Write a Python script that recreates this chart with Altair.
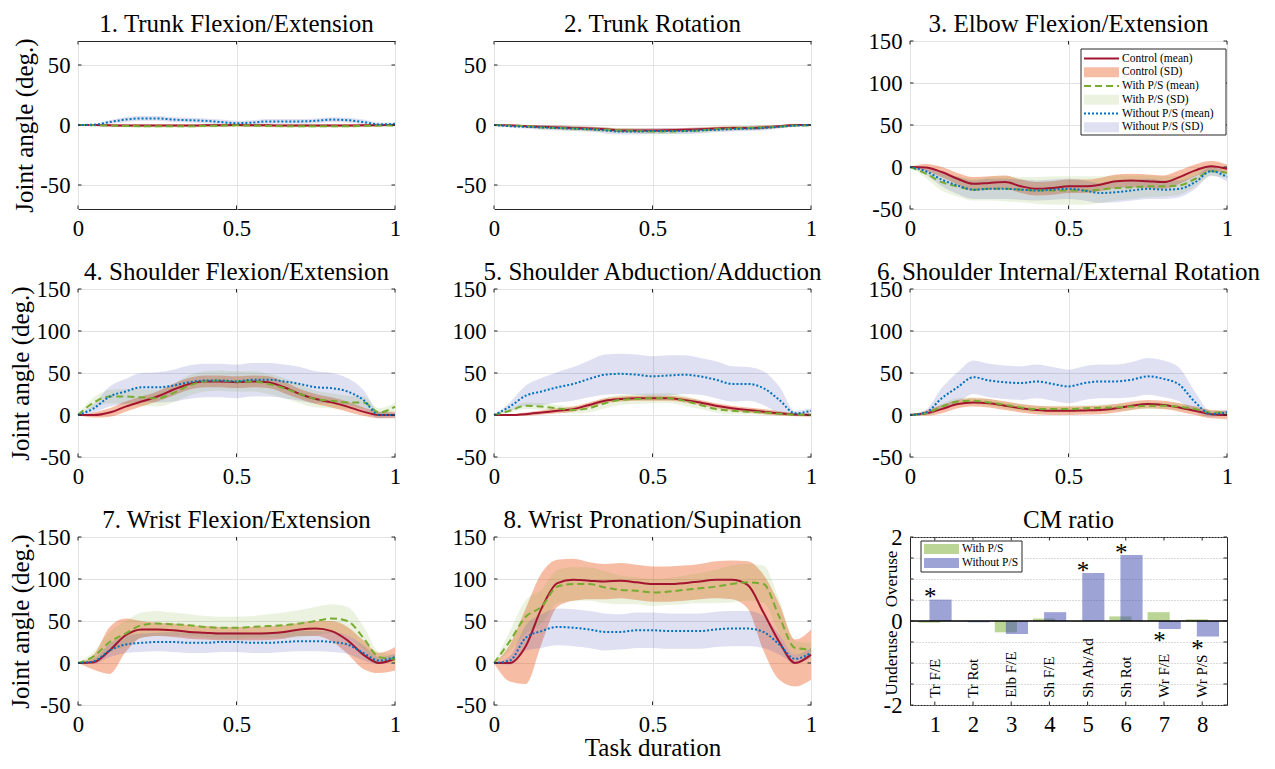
import altair as alt
import pandas as pd

FONT = "Liberation Serif"

# ---------------- data ----------------
X_PTS = [0.0, 0.05, 0.1, 0.15, 0.2, 0.25, 0.3, 0.35, 0.4, 0.45, 0.5,
         0.55, 0.6, 0.65, 0.7, 0.75, 0.8, 0.85, 0.9, 0.95, 1.0]

PANEL_TITLES = [
    "1. Trunk Flexion/Extension", "2. Trunk Rotation", "3. Elbow Flexion/Extension",
    "4. Shoulder Flexion/Extension", "5. Shoulder Abduction/Adduction",
    "6. Shoulder Internal/External Rotation", "7. Wrist Flexion/Extension",
    "8. Wrist Pronation/Supination",
]
GROUPS = ["Control", "With P/S", "Without P/S"]
LEGEND_LABELS = ["Control (mean)", "Control (SD)", "With P/S (mean)", "With P/S (SD)",
                 "Without P/S (mean)", "Without P/S (SD)"]

T1_CTRL = [0, 0, -0.3, -0.5, -0.5, -0.5, -0.5, -0.5, -0.3, -0.2, 0, -0.2, -0.3, -0.5, -0.5, -0.5, -0.5, -0.5, -0.3, -0.2, 0]
T1_CTRL_SD = [0, 0.5, 1, 1, 1, 1, 1, 1, 1, 1, 1, 1, 1, 1, 1, 1, 1, 1, 1, 0.8, 0.5]
T1_WITH = [0, -0.2, -0.5, -0.8, -1, -1, -1, -1, -0.8, -0.5, -0.3, -0.5, -0.8, -1, -1, -1, -1, -1, -0.8, -0.5, -0.5]
T1_WITH_SD = [0, 0.5, 1, 1.2, 1.2, 1.2, 1.2, 1.2, 1.2, 1.2, 1.2, 1.2, 1.2, 1.2, 1.2, 1.2, 1.2, 1.2, 1, 0.8, 0.5]
T1_WO = [0, 0.3, 2.5, 4.5, 5.5, 5.5, 4.5, 4, 3.5, 2.5, 1.5, 2, 3, 3, 3, 3.5, 4.5, 4, 2.5, 0.5, 1]
T1_WO_SD = [0, 0.5, 1.5, 2, 2, 2, 2, 2, 2, 2, 2, 2, 2, 2, 2, 2, 2, 2, 2, 1.5, 1]

T2_CTRL = [0, -0.3, -1, -1.5, -2, -2.5, -3, -3.5, -4.5, -4.5, -4.5, -4.3, -4, -3.5, -3, -2.5, -2.5, -2, -1, 0, 0]
T2_CTRL_SD = [0, 0.5, 1, 1, 1.5, 1.5, 1.5, 1.5, 1.5, 1.5, 1.5, 1.5, 1.5, 1.5, 1.5, 1.5, 1.5, 1.5, 1, 1, 0.5]
T2_WITH = [0, -0.5, -1, -2, -2.5, -3, -3.5, -4, -4.5, -5, -5.5, -5.5, -5, -4.5, -3.5, -3, -2.5, -2, -1.5, -0.5, -0.5]
T2_WITH_SD = [0, 0.5, 1, 1.5, 1.5, 2, 2, 2, 2, 2, 2, 2, 2, 2, 2, 2, 1.5, 1.5, 1, 1, 0.5]
T2_WO = [0, -1, -1.5, -2, -2.5, -3, -3.5, -4.5, -5.5, -5.5, -5, -5, -5, -4.5, -4, -3.5, -3, -2.5, -1.5, -0.5, 0]
T2_WO_SD = [0, 1, 1.5, 2, 2, 2, 2, 2.5, 2.5, 2.5, 2.5, 2.5, 2.5, 2.5, 2, 2, 2, 2, 1.5, 1, 0.5]

T3_CTRL = [0, -0.5, -6, -14, -20, -19, -18, -23, -26, -25, -23, -23, -21, -17, -16, -17, -18, -12, -4, 1, -2]
T3_CTRL_SD = [0, 4, 6, 7, 8, 8, 8, 8, 8, 8, 8, 8, 8, 8, 8, 8, 8, 8, 7, 6, 5]
T3_WITH = [0, -8, -18, -23, -27, -26, -26, -27, -28, -28, -28, -28, -27, -25, -24, -23, -23, -22, -14, -5, -7]
T3_WITH_SD = [0, 5, 10, 12, 13, 14, 15, 15, 16, 17, 17, 17, 16, 15, 14, 13, 12, 11, 9, 6, 5]
T3_WO = [0, -5, -15, -22, -27, -26, -26, -27, -28, -27, -26, -28, -31, -30, -28, -26, -27, -26, -18, -5, -12]
T3_WO_SD = [0, 4, 8, 10, 11, 12, 12, 12, 12, 12, 12, 12, 12, 12, 12, 12, 11, 10, 8, 5, 5]

T4_CTRL = [0, 0, 3, 10, 16, 22, 30, 37, 40, 40, 39, 40, 39, 33, 25, 19, 15, 10, 4, 0, 0]
T4_CTRL_SD = [0, 3, 5, 6, 6, 6, 7, 7, 7, 7, 7, 7, 7, 7, 6, 6, 6, 6, 5, 4, 4]
T4_WITH = [0, 15, 22, 22, 21, 20, 26, 35, 40, 41, 40, 40, 37, 32, 25, 19, 17, 15, 15, 3, 10]
T4_WITH_SD = [0, 6, 8, 9, 10, 10, 11, 12, 12, 12, 12, 12, 12, 12, 11, 10, 9, 8, 7, 5, 5]
T4_WO = [0, 8, 22, 28, 33, 33, 35, 39, 41, 41, 40, 42, 42, 40, 37, 33, 32, 28, 18, 0, 0]
T4_WO_SD = [0, 5, 12, 15, 17, 18, 19, 20, 20, 20, 20, 20, 20, 20, 20, 19, 18, 16, 12, 4, 3]

T5_CTRL = [0, 0, 1, 3, 5, 7, 12, 17, 19, 20, 20, 20, 18, 15, 11, 8, 6, 4, 2, 0.5, 0]
T5_CTRL_SD = [0, 1, 2, 2.5, 3, 3, 3, 3, 3, 3, 3, 3, 3, 3, 3, 3, 3, 3, 2.5, 2, 2]
T5_WITH = [0, 5, 11, 10, 8, 6, 8, 14, 18, 19, 20, 20, 17, 12, 7, 5, 4, 3, 1.5, 0.5, 0]
T5_WITH_SD = [0, 2, 4, 4, 4, 4, 5, 6, 6, 6, 6, 6, 6, 5, 4, 4, 3, 3, 2, 1, 1]
T5_WO = [0, 10, 23, 28, 33, 37, 43, 48, 49, 48, 46, 47, 48, 46, 42, 37, 37, 32, 18, 2, 5]
T5_WO_SD = [0, 5, 12, 16, 18, 20, 22, 24, 24, 24, 24, 24, 23, 22, 22, 21, 20, 20, 16, 3, 3]

T6_CTRL = [0, 2, 7, 13, 15, 14, 11, 8, 6, 5, 5, 5.5, 6, 8, 11, 13, 12, 9, 5, 1, 0]
T6_CTRL_SD = [0, 3, 5, 5, 5, 5, 5, 5, 5, 5, 5, 5, 5, 5, 5, 5, 5, 5, 5, 5, 5]
T6_WITH = [0, 2, 10, 16, 17, 15, 12, 9, 7, 7, 7, 8, 8.5, 9, 10, 11, 11, 10, 7, 3, 3]
T6_WITH_SD = [0, 2, 3, 4, 4, 4, 4, 4, 4, 4, 4, 4, 4, 4, 4, 4, 4, 4, 3, 2, 2]
T6_WO = [0, 3, 20, 33, 45, 41, 39, 38, 40, 37, 34, 38, 40, 40, 42, 46, 43, 36, 15, 1, 3]
T6_WO_SD = [0, 3, 12, 18, 20, 20, 20, 20, 20, 20, 20, 20, 20, 20, 21, 22, 22, 20, 12, 3, 3]

T7_CTRL = [0, 1, 15, 33, 40, 40, 39, 37, 36, 35, 35, 35, 35.5, 37, 40, 41, 38, 27, 10, 0, 5]
T7_CTRL_SD = [0, 9, 28, 20, 10, 8, 8, 8, 8, 8, 8, 8, 8, 8, 8, 9, 12, 16, 17, 12, 14]
T7_WITH = [0, 8, 25, 35, 45, 47, 46, 45, 43, 42, 42, 43, 44, 45, 47, 50, 53, 50, 30, 7, 5]
T7_WITH_SD = [0, 6, 12, 15, 15, 15, 14, 13, 13, 13, 13, 13, 14, 15, 16, 17, 17, 17, 14, 6, 5]
T7_WO = [0, 2, 15, 22, 24, 25, 25, 24, 24, 25, 25, 24, 24, 25, 26, 26, 25, 22, 12, 3, 7]
T7_WO_SD = [0, 3, 8, 10, 11, 11, 12, 12, 12, 12, 12, 12, 12, 12, 12, 12, 12, 11, 9, 4, 4]

T8_CTRL = [0, 0, 20, 65, 95, 99, 98, 97, 98, 96, 94, 94, 95, 97, 99, 99, 93, 60, 25, 0, 10]
T8_CTRL_SD = [0, 22, 45, 42, 28, 25, 22, 21, 21, 21, 21, 21, 21, 21, 22, 23, 28, 45, 45, 28, 30]
T8_WITH = [0, 26, 55, 67, 91, 94, 94, 90, 87, 86, 84, 85, 87, 89, 91, 94, 96, 94, 55, 18, 16]
T8_WITH_SD = [0, 12, 20, 20, 20, 20, 20, 19, 17, 16, 16, 16, 17, 18, 20, 22, 22, 22, 20, 8, 8]
T8_WO = [0, 3, 30, 38, 43, 42, 40, 37, 37, 39, 39, 38, 38, 38, 40, 41, 41, 37, 22, 5, 12]
T8_WO_SD = [0, 5, 15, 20, 22, 22, 22, 22, 21, 21, 21, 21, 21, 21, 21, 21, 21, 19, 12, 5, 6]

CM_CATS = [1, 2, 3, 4, 5, 6, 7, 8]
CM_NAMES = ["Tr F/E", "Tr Rot", "Elb F/E", "Sh F/E", "Sh Ab/Ad", "Sh Rot", "Wr F/E", "Wr P/S"]
CM_WITH = [-0.04, -0.01, -0.27, 0.06, -0.01, 0.11, 0.21, 0.04]
CM_WITHOUT = [0.51, -0.03, -0.31, 0.21, 1.14, 1.57, -0.19, -0.37]
CM_SIG_WITHOUT = [1, 0, 0, 0, 1, 1, 1, 1]
CM_LEGEND = ["With P/S", "Without P/S"]
CM_SIDE_LABELS = ["Overuse", "Underuse"]
CM_SIDE_Y = [1.0, -1.0]
CM_YTICKS = [-2, -1.5, -1, -0.5, 0, 0.5, 1, 1.5, 2]
CM_TITLE = "CM ratio"

PANEL_SERIES = [
    [(T1_CTRL, T1_CTRL_SD), (T1_WITH, T1_WITH_SD), (T1_WO, T1_WO_SD)],
    [(T2_CTRL, T2_CTRL_SD), (T2_WITH, T2_WITH_SD), (T2_WO, T2_WO_SD)],
    [(T3_CTRL, T3_CTRL_SD), (T3_WITH, T3_WITH_SD), (T3_WO, T3_WO_SD)],
    [(T4_CTRL, T4_CTRL_SD), (T4_WITH, T4_WITH_SD), (T4_WO, T4_WO_SD)],
    [(T5_CTRL, T5_CTRL_SD), (T5_WITH, T5_WITH_SD), (T5_WO, T5_WO_SD)],
    [(T6_CTRL, T6_CTRL_SD), (T6_WITH, T6_WITH_SD), (T6_WO, T6_WO_SD)],
    [(T7_CTRL, T7_CTRL_SD), (T7_WITH, T7_WITH_SD), (T7_WO, T7_WO_SD)],
    [(T8_CTRL, T8_CTRL_SD), (T8_WITH, T8_WITH_SD), (T8_WO, T8_WO_SD)],
]

# ---------------- styles ----------------
W, H = 317, 168
TICK_LEN = 3.5
TITLE_Y = -9
EDGE = "#262626"
MEAN_COLORS = {"Control": "#a2142f", "With P/S": "#77ac30", "Without P/S": "#0072bd"}
MEAN_DASH = {"Control": None, "With P/S": [7, 4], "Without P/S": [2, 2]}
SD_FILL = {"Control": "#e85011", "With P/S": "#77ac30", "Without P/S": "#4049ad"}
SD_OPAC = {"Control": 0.38, "With P/S": 0.15, "Without P/S": 0.17}
BAR_FILL = {"With P/S": "#77ac30", "Without P/S": "#3d47ad"}
BAR_OPAC = 0.5
BAR_W = 0.58
BAR_OFF = {"With P/S": -0.14, "Without P/S": 0.15}
GRID = "#e3e3e3"
INT_LABEL = "datum.value < 0 ? '-' + format(-datum.value, 'd') : format(datum.value, 'd')"
X_LABEL = "format(datum.value, '~g')"

ONE = pd.DataFrame({"k": [0]})


def title_layer(text):
    return alt.Chart(ONE).mark_text(fontSize=25, align="center", baseline="alphabetic",
                                    color="black").encode(
        x=alt.value(W / 2), y=alt.value(TITLE_Y), text=alt.value(text))


def tick_layers(xvals, yvals, xe, ye):
    dfx = pd.DataFrame({"t": xvals})
    dfy = pd.DataFrame({"t": yvals})
    rule = dict(color=EDGE, strokeWidth=1)
    return [
        alt.Chart(dfx).mark_rule(**rule).encode(x=xe("t"), y=alt.value(H), y2=alt.value(H - TICK_LEN)),
        alt.Chart(dfx).mark_rule(**rule).encode(x=xe("t"), y=alt.value(0), y2=alt.value(TICK_LEN)),
        alt.Chart(dfy).mark_rule(**rule).encode(y=ye("t"), x=alt.value(0), x2=alt.value(TICK_LEN)),
        alt.Chart(dfy).mark_rule(**rule).encode(y=ye("t"), x=alt.value(W), x2=alt.value(W - TICK_LEN)),
    ]


def legend_layers():
    layers = [alt.Chart(ONE).mark_rect(fill="white", stroke=EDGE, strokeWidth=1).encode(
        x=alt.value(171), x2=alt.value(316), y=alt.value(8), y2=alt.value(94))]
    for j, lab in enumerate(LEGEND_LABELS):
        yy = 17.5 + 13.75 * j
        g = GROUPS[j // 2]
        if j % 2 == 0:
            kw = dict(color=MEAN_COLORS[g], strokeWidth=2)
            if MEAN_DASH[g]:
                kw["strokeDash"] = MEAN_DASH[g]
            layers.append(alt.Chart(ONE).mark_rule(**kw).encode(
                x=alt.value(174), x2=alt.value(209), y=alt.value(yy)))
        else:
            layers.append(alt.Chart(ONE).mark_rect(fill=SD_FILL[g], opacity=SD_OPAC[g]).encode(
                x=alt.value(174), x2=alt.value(209), y=alt.value(yy - 5), y2=alt.value(yy + 5)))
        layers.append(alt.Chart(ONE).mark_text(align="left", baseline="middle", fontSize=11.5,
                                               color="black").encode(
            x=alt.value(212), y=alt.value(yy), text=alt.value(lab)))
    return layers


def line_panel(i):
    col = i % 3
    small = i < 2
    ydom = [-70, 70] if small else [-50, 150]
    yvals = [-50, 0, 50] if small else [-50, 0, 50, 100, 150]
    xvals = [0, 0.5, 1]
    xaxis = alt.Axis(values=xvals, labelExpr=X_LABEL, labelFlush=False, labelOverlap=False,
                     grid=True, title="Task duration" if i == 7 else None, labelPadding=8,
                     titlePadding=0)
    yaxis = alt.Axis(values=yvals, labelExpr=INT_LABEL, labelFlush=False,
                     labelOverlap=False, grid=True,
                     title="Joint angle (deg.)" if col == 0 else None,
                     labelPadding=8, titlePadding=2)
    xs = alt.Scale(domain=[0, 1], nice=False, zero=False)
    ys = alt.Scale(domain=ydom, nice=False, zero=False)

    def xe(f):
        return alt.X(f, type="quantitative", scale=xs, axis=xaxis)

    def ye(f):
        return alt.Y(f, type="quantitative", scale=ys, axis=yaxis)

    areas, lines = [], []
    for g, (mean, sd) in zip(GROUPS, PANEL_SERIES[i]):
        df = pd.DataFrame({
            "x": X_PTS,
            "m": mean,
            "lo": [m - s for m, s in zip(mean, sd)],
            "hi": [m + s for m, s in zip(mean, sd)],
        })
        areas.append(alt.Chart(df).mark_area(color=SD_FILL[g], opacity=SD_OPAC[g],
                                             interpolate="monotone").encode(
            x=xe("x"), y=ye("lo"), y2="hi:Q"))
        kw = dict(color=MEAN_COLORS[g], strokeWidth=2, interpolate="monotone")
        if MEAN_DASH[g]:
            kw["strokeDash"] = MEAN_DASH[g]
        lines.append(alt.Chart(df).mark_line(**kw).encode(x=xe("x"), y=ye("m")))
    layers = areas + lines + tick_layers(xvals, yvals, xe, ye)
    if i == 2:
        layers += legend_layers()
    layers.append(title_layer(PANEL_TITLES[i]))
    return alt.layer(*layers).properties(width=W, height=H)


def cm_panel():
    xs = alt.Scale(domain=[0.35, 8.65], nice=False, zero=False)
    ys = alt.Scale(domain=[-2, 2], nice=False, zero=False)
    xaxis = alt.Axis(values=CM_CATS, labelExpr=INT_LABEL, labelFlush=False, labelOverlap=False,
                     grid=False, title=None, labelPadding=8)
    yaxis = alt.Axis(values=CM_YTICKS,
                     labelExpr="(datum.value == 2 || datum.value == 0 || datum.value == -2) ? ("
                               + INT_LABEL + ") : ''",
                     labelFlush=False, labelOverlap=False, grid=True, gridDash=[1, 2],
                     gridColor="#b4b4b4", title=None, labelPadding=8)

    def xe(f):
        return alt.X(f, type="quantitative", scale=xs, axis=xaxis)

    def ye(f):
        return alt.Y(f, type="quantitative", scale=ys, axis=yaxis)

    layers = []
    for g, vals in (("With P/S", CM_WITH), ("Without P/S", CM_WITHOUT)):
        df = pd.DataFrame({
            "x0": [c + BAR_OFF[g] - BAR_W / 2 for c in CM_CATS],
            "x1": [c + BAR_OFF[g] + BAR_W / 2 for c in CM_CATS],
            "v": vals,
            "zero": [0] * len(CM_CATS),
        })
        layers.append(alt.Chart(df).mark_rect(fill=BAR_FILL[g], opacity=BAR_OPAC).encode(
            x=xe("x0"), x2="x1:Q", y=ye("v"), y2="zero:Q"))
    layers.append(alt.Chart(ONE).mark_rule(color="black", strokeWidth=1.5).encode(
        y=ye("k")))
    layers += tick_layers(CM_CATS, CM_YTICKS, xe, ye)
    sig = pd.DataFrame({
        "xa": [c - 0.12 for c, s in zip(CM_CATS, CM_SIG_WITHOUT) if s],
        "ya": [v + (0.17 if v > 0 else -0.17) for v, s in zip(CM_WITHOUT, CM_SIG_WITHOUT) if s],
    })
    layers.append(alt.Chart(sig).mark_text(text="*", fontSize=25, baseline="middle", dy=5,
                                           color="black").encode(
        x=xe("xa"), y=ye("ya")))
    names = pd.DataFrame({"c": CM_CATS, "n": CM_NAMES, "ly": [-1.83] * len(CM_CATS)})
    layers.append(alt.Chart(names).mark_text(angle=270, align="left", baseline="middle",
                                             fontSize=15, color="black").encode(
        x=xe("c"), y=ye("ly"), text="n:N"))
    side = pd.DataFrame({"t": CM_SIDE_LABELS, "sy": CM_SIDE_Y})
    layers.append(alt.Chart(side).mark_text(angle=270, align="center", baseline="middle",
                                            fontSize=17, color="black").encode(
        x=alt.value(-18), y=ye("sy"), text="t:N"))
    # legend
    layers.append(alt.Chart(ONE).mark_rect(fill="white", stroke=EDGE, strokeWidth=1).encode(
        x=alt.value(11), x2=alt.value(112), y=alt.value(4), y2=alt.value(35)))
    for j, g in enumerate(CM_LEGEND):
        yy = 12 + 14 * j
        layers.append(alt.Chart(ONE).mark_rect(fill=BAR_FILL[g], opacity=BAR_OPAC).encode(
            x=alt.value(14), x2=alt.value(49), y=alt.value(yy - 5), y2=alt.value(yy + 5)))
        layers.append(alt.Chart(ONE).mark_text(align="left", baseline="middle", fontSize=11.5,
                                               color="black").encode(
            x=alt.value(52), y=alt.value(yy), text=alt.value(g)))
    layers.append(title_layer(CM_TITLE))
    return alt.layer(*layers).properties(width=W, height=H)


panels = [line_panel(i) for i in range(8)] + [cm_panel()]

chart = alt.concat(*panels, columns=3, spacing={"row": 80, "column": 99}, bounds="flush").properties(
    padding={"left": 0, "top": 3, "right": 0, "bottom": 0}
).configure(font=FONT).configure_axis(
    labelFont=FONT, titleFont=FONT, labelFontSize=22.7, titleFontSize=25,
    labelColor="black", titleColor="black", titleFontWeight="normal",
    ticks=False, domain=False, gridColor=GRID, gridWidth=1,
).configure_view(stroke=EDGE, strokeWidth=1)

chart.save("out.html", embed_options={"renderer": "svg", "actions": False})
